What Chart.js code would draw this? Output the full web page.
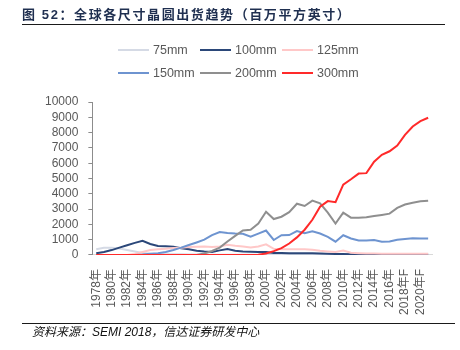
<!DOCTYPE html>
<html>
<head>
<meta charset="utf-8">
<script src="https://cdn.jsdelivr.net/npm/chart.js@4.4.1/dist/chart.umd.min.js"></script>
<style>
  html, body { margin: 0; padding: 0; background: #fff; }
  #wrap { position: relative; width: 460px; height: 350px; overflow: hidden; }
  #chart { position: absolute; left: 0; top: 0; }
  #title {
    position: absolute; left: 22px; top: 5px; width: 423px; height: 19px;
    border-bottom: 1.5px solid #1a1a1a;
    font: bold 13px "Liberation Sans", Arial, "Noto Sans CJK SC", sans-serif;
    color: #1f2f50; letter-spacing: 1.6px; line-height: 20px; white-space: nowrap;
  }
  #footer {
    position: absolute; left: 22px; top: 323px; width: 423px;
    border-top: 1.5px solid #1a1a1a;
    font: italic 12px "Liberation Sans", Arial, "Noto Sans CJK SC", sans-serif;
    color: #111; padding-left: 10px; line-height: 17px; white-space: nowrap;
  }
</style>
</head>
<body>
<div id="wrap">
  <canvas id="chart" width="460" height="350"></canvas>
  <div id="title">图 52：全球各尺寸晶圆出货趋势（百万平方英寸）</div>
  <div id="footer">资料来源：SEMI 2018，信达证券研发中心</div>
</div>
<script>
// 年份标签 1978–2021 (2018 起为预测值)
const years = [];
for (let y = 1978; y <= 2021; y++) {
  years.push(y >= 2018 ? `${y}年F` : `${y}年`);
}

// 各尺寸出货面积 (百万平方英寸)
const wafer75 = [380, 470, 480, 420, 330, 230, 130, 80, 60, 50, 40, 40, 30, 30, 30, 20,
  20, 20, 20, 10, 10, 10, 10, 10, 10, 10, 10, 10, 10, 10, 10, 10, 10, 10, 10, 10, 10, 10,
  10, 10, 10, 10, 10, 10];
const wafer100 = [110, 200, 320, 480, 640, 790, 930, 720, 590, 570, 540, 440, 370, 270, 220, 200,
  300, 390, 270, 230, 210, 200, 190, 130, 125, 120, 115, 110, 105, 100, 80, 70, 60, 55, 50, 45,
  40, 40, 35, 35, 30, 30, 30, 30];
const wafer125 = [0, 0, 0, 0, 0, 60, 200, 330, 370, 400, 450, 480, 520, 540, 560, 520,
  550, 660, 600, 560, 490, 560, 700, 400, 370, 370, 370, 370, 340, 270, 230, 200, 290, 150, 120, 100,
  90, 85, 80, 80, 80, 80, 80, 80];
const wafer150 = [0, 0, 0, 0, 0, 0, 30, 80, 120, 200, 330, 480, 650, 820, 1000, 1300,
  1500, 1430, 1400, 1390, 1190, 1400, 1600, 980, 1290, 1300, 1560, 1420, 1550, 1400, 1180, 870, 1290, 1080, 950, 940,
  980, 870, 880, 1000, 1050, 1100, 1080, 1070];
const wafer200 = [0, 0, 0, 0, 0, 0, 0, 0, 0, 0, 0, 0, 0, 0, 100, 260,
  480, 880, 1250, 1600, 1650, 2050, 2830, 2350, 2500, 2800, 3350, 3200, 3550, 3380, 2770, 2050, 2770, 2440, 2430, 2460,
  2550, 2620, 2700, 3080, 3300, 3420, 3510, 3550];
const wafer300 = [0, 0, 0, 0, 0, 0, 0, 0, 0, 0, 0, 0, 0, 0, 0, 0,
  0, 0, 0, 0, 0, 20, 100, 250, 450, 750, 1150, 1650, 2300, 3150, 3520, 3450, 4600, 4950, 5320, 5350,
  6100, 6550, 6780, 7150, 7850, 8400, 8750, 8970];

const yTicks = [0, 1000, 2000, 3000, 4000, 5000, 6000, 7000, 8000, 9000, 10000];

const series = [
  { label: '75mm', data: wafer75, color: '#d5dae5' },
  { label: '100mm', data: wafer100, color: '#2b4779' },
  { label: '125mm', data: wafer125, color: '#ffc8c8' },
  { label: '150mm', data: wafer150, color: '#6e94d0' },
  { label: '200mm', data: wafer200, color: '#8f8f8f' },
  { label: '300mm', data: wafer300, color: '#ff2a2a' }
];

const FONT = '"Liberation Sans", Arial, "Noto Sans CJK SC", sans-serif';

// 图例: 两行三列, 固定列宽 (Excel 风格)
const gridLegend = {
  id: 'gridLegend',
  afterDraw(chart) {
    const ctx = chart.ctx;
    ctx.save();
    ctx.font = '12.5px ' + FONT;
    ctx.textBaseline = 'middle';
    ctx.textAlign = 'left';
    chart.data.datasets.forEach((ds, i) => {
      const x = 118 + (i % 3) * 82;
      const y = 50 + Math.floor(i / 3) * 23;
      ctx.strokeStyle = ds.borderColor;
      ctx.lineWidth = 2;
      ctx.beginPath();
      ctx.moveTo(x, y);
      ctx.lineTo(x + 31, y);
      ctx.stroke();
      ctx.fillStyle = '#595959';
      ctx.fillText(ds.label, x + 35, y + 1);
    });
    ctx.restore();
  }
};

new Chart(document.getElementById('chart'), {
  type: 'line',
  data: {
    labels: years,
    datasets: series.map((s, i) => ({
      label: s.label,
      data: s.data,
      borderColor: s.color,
      backgroundColor: s.color,
      borderWidth: 2,
      pointRadius: 0,
      tension: 0,
      order: series.length - i   // 后面的系列画在上面
    }))
  },
  options: {
    responsive: false,
    devicePixelRatio: 1,
    animation: false,
    layout: { padding: { left: 35, right: 28, top: 102, bottom: 29 } },
    plugins: {
      legend: { display: false },
      tooltip: { enabled: false }
    },
    scales: {
      x: {
        offset: true,
        grid: { display: false },
        border: { display: true, color: '#d9d9d9' },
        ticks: {
          autoSkip: false,
          maxRotation: 90,
          minRotation: 90,
          padding: 6,
          color: '#595959',
          font: { family: FONT, size: 12 },
          callback: (v, i) => (i % 2 === 0 ? years[i] : '')
        }
      },
      y: {
        min: 0,
        max: 10000,
        afterBuildTicks: (axis) => { axis.ticks = yTicks.map(v => ({ value: v })); },
        grid: { drawOnChartArea: false, color: '#8c8c8c', tickLength: 4 },
        border: { display: true, color: '#8c8c8c' },
        ticks: {
          autoSkip: false,
          padding: 10,
          color: '#595959',
          font: { family: FONT, size: 12 },
          callback: (v) => String(v)
        }
      }
    }
  },
  plugins: [gridLegend]
});
</script>
</body>
</html>
